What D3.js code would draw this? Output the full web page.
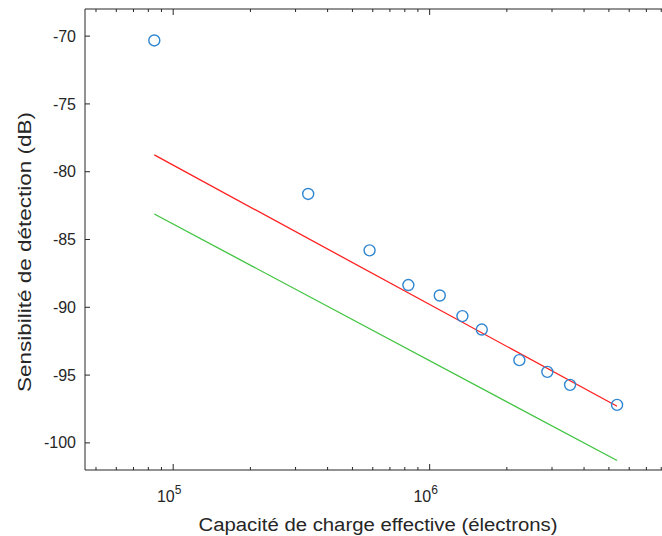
<!DOCTYPE html>
<html>
<head>
<meta charset="utf-8">
<script src="https://cdn.jsdelivr.net/npm/d3@7"></script>
<style>
  html, body { margin: 0; padding: 0; background: #fff; }
  svg { display: block; font-family: "Liberation Sans", Arial, Helvetica, sans-serif; }
</style>
</head>
<body>
<svg id="chart" width="662" height="536"></svg>
<script>
// ---- data ----
const capacity = [8.44e4, 3.36e5, 5.83e5, 8.26e5, 1.095e6, 1.342e6, 1.597e6, 2.238e6, 2.877e6, 3.528e6, 5.38e6];
const sensitivity = [-70.32, -81.64, -85.80, -88.36, -89.13, -90.65, -91.64, -93.90, -94.76, -95.72, -97.20];
const redLineX = [8.44e4, 5.38e6];
const redLineY = [-78.76, -97.30];
const greenLineX = [8.44e4, 5.38e6];
const greenLineY = [-83.12, -101.30];
const yTicks = [-100, -95, -90, -85, -80, -75, -70];
const xMajorTicks = [1e5, 1e6];
const xMajorLabels = ["5", "6"];
const xLabel = "Capacité de charge effective (électrons)";
const yLabel = "Sensibilité de détection (dB)";

(function () {
// ---- layout ----
const svg = d3.select("#chart");
const mLeft = 85, mRight = 664, mTop = 9, mBottom = 470;
const x = d3.scaleLog().domain([4.53e4, 8.2e6]).range([mLeft, mRight]);
const y = d3.scaleLinear().domain([-102, -68]).range([mBottom, mTop]);
const axisColor = "#262626";

// minor ticks for log axis
const minorTicks = [];
for (let e = 4; e <= 6; e++) {
  for (let m = 2; m <= 9; m++) {
    const v = m * Math.pow(10, e);
    if (v > x.domain()[0] && v < x.domain()[1]) minorTicks.push(v);
  }
}

const g = svg.append("g");

// axis lines (left, top, bottom; right edge is outside the picture)
g.append("path")
  .attr("d", `M${mRight},${mTop}H${mLeft}V${mBottom}H${mRight}`)
  .attr("fill", "none").attr("stroke", axisColor).attr("stroke-width", 1);

// x ticks (inward, bottom & top)
[mBottom, mTop].forEach((yy, i) => {
  const dir = i === 0 ? -1 : 1;
  g.selectAll(null).data(xMajorTicks).enter().append("line")
    .attr("x1", d => x(d)).attr("x2", d => x(d))
    .attr("y1", yy).attr("y2", yy + dir * 6)
    .attr("stroke", axisColor);
  g.selectAll(null).data(minorTicks).enter().append("line")
    .attr("x1", d => x(d)).attr("x2", d => x(d))
    .attr("y1", yy).attr("y2", yy + dir * 3)
    .attr("stroke", axisColor);
});

// y ticks (inward)
g.selectAll(null).data(yTicks).enter().append("line")
  .attr("x1", mLeft).attr("x2", mLeft + 5)
  .attr("y1", d => y(d)).attr("y2", d => y(d))
  .attr("stroke", axisColor);

// y tick labels
g.selectAll(null).data(yTicks).enter().append("text")
  .attr("x", mLeft - 9).attr("y", d => y(d))
  .attr("dy", "0.35em")
  .attr("text-anchor", "end")
  .attr("font-size", 16)
  .attr("fill", axisColor)
  .text(d => d);

// x tick labels 10^n
const xl = g.selectAll(null).data(xMajorTicks).enter().append("text")
  .attr("x", d => x(d) - 4).attr("y", 502)
  .attr("text-anchor", "middle")
  .attr("font-size", 16)
  .attr("fill", axisColor);
xl.append("tspan").text("10");
xl.append("tspan").attr("dy", -8).attr("font-size", 12).text((d, i) => xMajorLabels[i]);

// axis labels
g.append("text")
  .attr("x", 378).attr("y", 531)
  .attr("text-anchor", "middle")
  .attr("font-size", 18)
  .attr("fill", axisColor)
  .attr("textLength", 359).attr("lengthAdjust", "spacingAndGlyphs")
  .text(xLabel);

g.append("text")
  .attr("transform", "translate(31,252) rotate(-90)")
  .attr("text-anchor", "middle")
  .attr("font-size", 18)
  .attr("fill", axisColor)
  .attr("textLength", 280).attr("lengthAdjust", "spacingAndGlyphs")
  .text(yLabel);

// fit lines
const line = d3.line().x(d => x(d[0])).y(d => y(d[1]));
g.append("path")
  .datum(greenLineX.map((v, i) => [v, greenLineY[i]]))
  .attr("d", line).attr("fill", "none")
  .attr("stroke", "#3fc43f").attr("stroke-width", 1.3);
g.append("path")
  .datum(redLineX.map((v, i) => [v, redLineY[i]]))
  .attr("d", line).attr("fill", "none")
  .attr("stroke", "#ff2020").attr("stroke-width", 1.3);

// data points
g.selectAll(null).data(capacity).enter().append("circle")
  .attr("cx", d => x(d))
  .attr("cy", (d, i) => y(sensitivity[i]))
  .attr("r", 5.5)
  .attr("fill", "none")
  .attr("stroke", "#2f86d1")
  .attr("stroke-width", 1.4);
})();
</script>
</body>
</html>
